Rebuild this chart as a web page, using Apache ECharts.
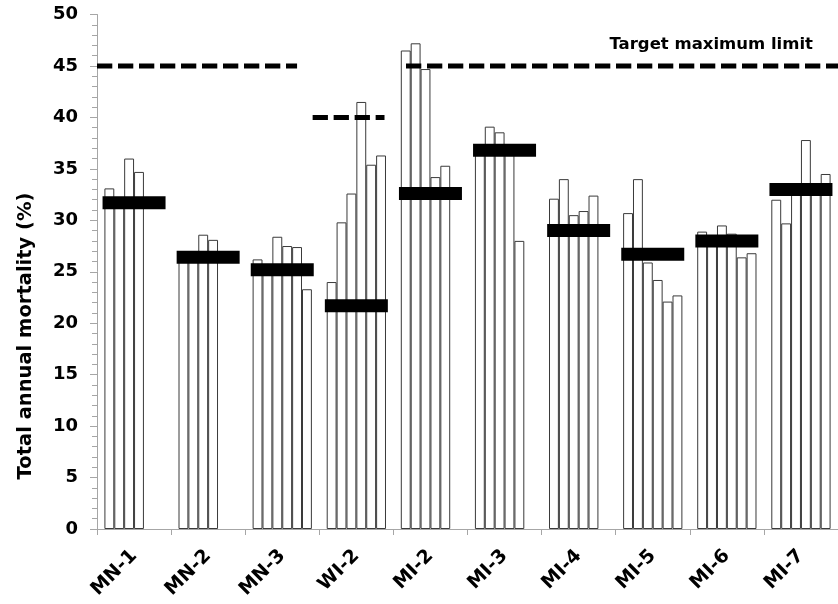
<!DOCTYPE html>
<html>
<head>
<meta charset="utf-8">
<script src="https://cdn.jsdelivr.net/npm/echarts@6/dist/echarts.min.js"></script>
<style>html,body{margin:0;padding:0;background:#fff}#c{width:838px;height:604px}</style>
</head>
<body>
<div id="c"></div>
<script>
// Sites (categories)
const categories = ['MN-1','MN-2','MN-3','WI-2','MI-2','MI-3','MI-4','MI-5','MI-6','MI-7'];
// Annual mortality (%) for each of up to six years at each site
const year1 = [33.1, 26.6, 26.2, 24.0, 46.5, 37.0, 32.1, 30.7, 28.9, 32.0];
const year2 = [31.5, 26.2, 25.1, 29.8, 47.2, 39.1, 34.0, 34.0, 27.9, 29.7];
const year3 = [36.0, 28.6, 28.4, 32.6, 44.7, 38.55, 30.5, 25.9, 29.5, 33.0];
const year4 = [34.7, 28.1, 27.5, 41.5, 34.2, 36.8, 30.9, 24.2, 28.7, 37.8];
const year5 = [null, null, 27.4, 35.4, 35.3, 28.0, 32.4, 22.1, 26.4, 33.2];
const year6 = [null, null, 23.3, 36.3, null, null, null, 22.7, 26.8, 34.5];
// Mean mortality per site (thick black bars)
const means = [31.7, 26.4, 25.2, 21.7, 32.6, 36.8, 29.0, 26.7, 28.0, 33.0];
// Target maximum limit lines: [position in category units, value]
const limitA = [[0, 45], [2.70, 45]];
const limitB = [[2.91, 40], [3.88, 40]];
const limitC = [[4.17, 45], [10, 45]];
const yTicks = [0, 50, 5];

const FONT = 'DejaVu Sans';
const axisGray = '#a6a6a6';
const years = [year1, year2, year3, year4, year5, year6];

const barSeries = years.map((d, i) => ({
  type: 'bar',
  name: 'Year ' + (i + 1),
  data: d,
  xAxisIndex: 0,
  barGap: '0%',
  barCategoryGap: '20%',
  itemStyle: { color: '#ffffff', borderColor: '#3a3a3a', borderWidth: 1 },
  z: 2,
  silent: true
}));

const lineStyle = { color: '#000', width: 5, type: [15.3, 5.7] };
const limitSeries = [limitA, limitB, limitC].map(d => ({
  type: 'line',
  data: d,
  xAxisIndex: 1,
  symbol: 'none',
  lineStyle: lineStyle,
  z: 5,
  silent: true
}));

const chart = echarts.init(document.getElementById('c'), null, { renderer: 'canvas' });
chart.setOption({
  animation: false,
  backgroundColor: '#fff',
  grid: { left: 97, top: 14.5, width: 750, height: 514.5, containLabel: false },
  xAxis: [
    {
      type: 'category',
      data: categories,
      boundaryGap: true,
      axisLine: { show: true, lineStyle: { color: axisGray, width: 1 } },
      axisTick: { show: true, length: 6, lineStyle: { color: axisGray } },
      axisLabel: { interval: 0, rotate: 45, margin: 24, color: '#000', fontFamily: FONT, fontWeight: 'bold', fontSize: 19 },
      splitLine: { show: false }
    },
    { type: 'value', min: 0, max: 10, show: false, position: 'top' }
  ],
  yAxis: {
    type: 'value',
    min: yTicks[0], max: yTicks[1], interval: yTicks[2],
    axisLine: { show: true, lineStyle: { color: axisGray, width: 1 } },
    axisTick: { show: true, length: 7, lineStyle: { color: axisGray } },
    minorTick: { show: true, splitNumber: 5, length: 5, lineStyle: { color: axisGray } },
    splitLine: { show: false },
    minorSplitLine: { show: false },
    axisLabel: { margin: 19, color: '#000', fontFamily: FONT, fontWeight: 'bold', fontSize: 18 }
  },
  series: barSeries.concat([
    {
      type: 'scatter',
      data: means,
      xAxisIndex: 0,
      symbol: 'rect',
      symbolSize: [63, 13],
      itemStyle: { color: '#000', opacity: 1 },
      z: 4,
      silent: true
    }
  ]).concat(limitSeries),
  graphic: [
    {
      type: 'text', x: 26, y: 336, rotation: Math.PI / 2,
      style: { text: 'Total annual mortality (%)', font: 'bold 19.5px "DejaVu Sans"', fill: '#000', textAlign: 'center', textVerticalAlign: 'middle' }
    },
    {
      type: 'text', x: 813, y: 45,
      style: { text: 'Target maximum limit', font: 'bold 16.5px "DejaVu Sans"', fill: '#000', textAlign: 'right', textVerticalAlign: 'middle' }
    }
  ]
});
</script>
</body>
</html>
